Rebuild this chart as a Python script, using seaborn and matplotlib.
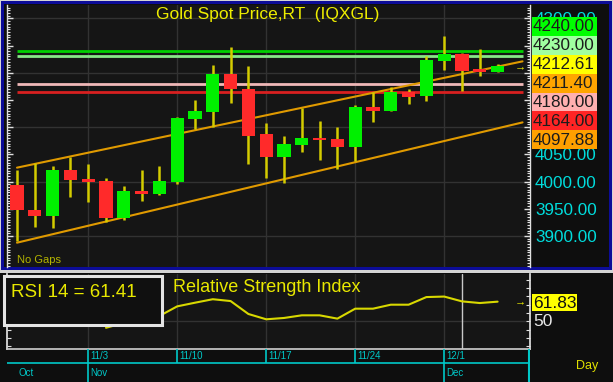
import numpy as np
import pandas as pd
import matplotlib
matplotlib.use("Agg")
import matplotlib.pyplot as plt
import seaborn as sns
from matplotlib.patches import Rectangle
from matplotlib.ticker import MultipleLocator, FixedLocator, FuncFormatter

# ---------------- data ----------------
dates = ["10/28", "10/29", "10/30", "10/31",
         "11/3", "11/4", "11/5", "11/6", "11/7",
         "11/10", "11/11", "11/12", "11/13", "11/14",
         "11/17", "11/18", "11/19", "11/20", "11/21",
         "11/24", "11/25", "11/26", "11/27", "11/28",
         "12/1", "12/2", "12/3", "12/4"]
opens = [3994, 3947, 3937, 4021, 4004, 4001, 3933, 3982, 3977, 3999,
         4115, 4127, 4197, 4171, 4087, 4045, 4067, 4080, 4079, 4064,
         4137, 4130, 4164, 4157, 4222, 4235, 4207, 4202]
highs = [4021, 4034, 4029, 4046, 4032, 4006, 3992, 4021, 4029, 4119,
         4150, 4214, 4247, 4213, 4108, 4084, 4135, 4112, 4101, 4141,
         4164, 4173, 4170, 4230, 4268, 4237, 4244, 4216]
lows = [3890, 3917, 3914, 3972, 3962, 3926, 3929, 3964, 3975, 3996,
        4097, 4101, 4144, 4032, 4006, 3997, 4055, 4040, 4024, 4038,
        4110, 4130, 4142, 4149, 4206, 4166, 4194, 4202]
closes = [3948, 3937, 4021, 4003, 4000, 3933, 3982, 3977, 4002, 4116,
          4130, 4197, 4170, 4083, 4045, 4069, 4080, 4077, 4064, 4137,
          4130, 4165, 4156, 4224, 4235, 4204, 4202, 4212.61]
rsi = [np.nan, np.nan, np.nan, np.nan, np.nan,
       46.1, 49.0, 51.0, 53.2, 59.0, 61.2, 63.3, 62.2, 54.4, 51.2, 52.0,
       53.6, 53.6, 51.6, 57.6, 57.6, 60.0, 60.0, 64.6, 64.9, 62.0, 61.0, 61.83]

level_values = [4240, 4230, 4180, 4164]
level_colors = ["#00d000", "#88e888", "#f0b8b8", "#d82020"]

channel_x = [0, 28.4]
channel_upper = [4025.6, 4221.0]
channel_lower = [3887.7, 4108.8]

tag_values = [4240.00, 4230.00, 4212.61, 4211.40, 4180.00, 4164.00, 4097.88]
tag_colors = ["#00ff00", "#a0ffa0", "#ffff00", "#ffa500", "#ffb0b0", "#ff2424", "#ffa000"]

price_ticks = [3900, 3950, 4000, 4050, 4100, 4150, 4200, 4250, 4300]
price_labelled = [3900, 3950, 4000, 4050, 4300]

week_labels = ["11/3", "11/10", "11/17", "11/24", "12/1"]
month_labels = ["Oct", "Nov", "Dec"]
month_starts = ["10/28", "11/3", "12/1"]

rsi_label = "RSI 14 = 61.41"
rsi_last_label = "61.83"
title = "Gold Spot Price,RT  (IQXGL)"

# ---------------- setup ----------------
sns.set_theme(style="dark", rc={"axes.facecolor": "#151515",
                                "figure.facecolor": "#d4d4d4",
                                "axes.grid": False})
plt.rcParams["font.family"] = ["Liberation Sans", "DejaVu Sans"]

W, H = 613, 382
fig = plt.figure(figsize=(W / 100, H / 100), dpi=100)


def add_ax(x0, y0, x1, y1):
    return fig.add_axes([x0 / W, 1 - y1 / H, (x1 - x0) / W, (y1 - y0) / H])


def rect(x0, y0, x1, y1, **kw):
    r = Rectangle((x0 / W, 1 - y1 / H), (x1 - x0) / W, (y1 - y0) / H,
                  transform=fig.transFigure, **kw)
    fig.add_artist(r)
    return r


def ftext(x, y, s, **kw):
    return fig.text(x / W, 1 - y / H, s, **kw)


# panel backgrounds
rect(1, 1, 612, 270, facecolor="#0c0c98", edgecolor="none", zorder=-10)
rect(4, 4, 609, 267, facecolor="#0e0e0e", edgecolor="none", zorder=-9)
rect(0, 273, 613, 382, facecolor="#0e0e0e", edgecolor="none", zorder=-10)

x = np.arange(len(dates))
XL = (-0.562, 28.82)
week_idx = [dates.index(d) for d in week_labels]
month_idx = [dates.index(d) for d in month_starts]

# ---------------- main price panel ----------------
ax = add_ax(7, 5, 530, 267)
ax.set_facecolor("#151515")
ax.set_xlim(*XL)
ax.set_ylim(3843.0, 4324.6)

for g in np.arange(3900, 4301, 100):
    ax.axhline(g, color="#323232", lw=1, zorder=0)
for w in week_idx:
    ax.axvline(w, color="#323232", lw=1, zorder=0)

# levels
for v, c in zip(level_values, level_colors):
    ax.hlines(v, channel_x[0], channel_x[1], color=c, lw=2, zorder=1)

# channel
sns.lineplot(x=channel_x, y=channel_upper, ax=ax, color="#e09a00", lw=1.5, zorder=2)
sns.lineplot(x=channel_x, y=channel_lower, ax=ax, color="#e09a00", lw=1.5, zorder=2)

# candles
o = np.array(opens, float); c = np.array(closes, float)
up = c >= o
ax.vlines(x, lows, highs, color="#d4cc00", lw=1.8, zorder=3)
ax.bar(x, np.abs(c - o), bottom=np.minimum(o, c), width=0.74,
       color=np.where(up, "#00f000", "#ff2a2a"), linewidth=0, zorder=4)

ax.text(28.25, closes[-1], "\u2192", color="#e8e800", fontsize=8,
        ha="center", va="center", zorder=5)
ax.text(0.0, 3851, "No Gaps", color="#b4b400", fontsize=8, ha="left", va="baseline")

ax.set_xticks([])
ax.yaxis.set_major_locator(FixedLocator(price_ticks))
ax.yaxis.set_minor_locator(MultipleLocator(5))
ax.yaxis.set_major_formatter(
    FuncFormatter(lambda v, p: f"{v:.2f}" if round(v) in price_labelled else ""))
ax.tick_params(axis="y", which="both", direction="in", left=True, right=True,
               labelleft=False, labelright=True, colors="#e0e0e0",
               labelcolor="#00dcdc", labelsize=12.3, pad=3.6)
ax.tick_params(axis="y", which="major", length=4.5, width=1)
ax.tick_params(axis="y", which="minor", length=2.5, width=0.8)
for s in ["top", "bottom"]:
    ax.spines[s].set_visible(False)
for s in ["left", "right"]:
    ax.spines[s].set_color("#e0e0e0")
    ax.spines[s].set_linewidth(1)
ax.set_xlabel(""); ax.set_ylabel("")

ftext(268, 15, title, color="#eeee00", fontsize=12.5, ha="center", va="center")

# price tags
tag_h = 18.9
tag_top = 17
for k, (v, col) in enumerate(zip(tag_values, tag_colors)):
    y0 = tag_top + k * tag_h
    rect(532, y0, 597, y0 + tag_h, facecolor=col, edgecolor="none", zorder=5)
    ftext(533, y0 + tag_h / 2 + 0.5, f"{v:.2f}", color="#1c1c1c", fontsize=12.3,
          ha="left", va="center", zorder=6)

# ---------------- RSI panel ----------------
axr = add_ax(7, 274, 530, 349)
axr.set_facecolor("#151515")
axr.set_xlim(*XL)
axr.set_ylim(33.3, 78.5)
axr.axhline(50, color="#323232", lw=1, zorder=0)
for w in week_idx:
    axr.axvline(w, color="#323232", lw=1, zorder=0)
axr.axvline(25, color="#c8c8c8", lw=1, zorder=1)
rsi_df = pd.DataFrame({"x": x, "rsi": rsi}).dropna()
sns.lineplot(data=rsi_df, x="x", y="rsi", ax=axr, color="#d8d800", lw=1.5, zorder=3)
axr.text(28.25, rsi[-1], "\u2192", color="#e8e800", fontsize=8,
         ha="center", va="center")
axr.set_xticks([])
axr.yaxis.set_major_locator(MultipleLocator(5))
axr.tick_params(axis="y", which="both", direction="in", left=True, right=True,
                labelleft=False, labelright=False, colors="#e0e0e0", length=3, width=0.8)
axr.spines["top"].set_visible(False)
axr.spines["bottom"].set_color("#c8c8c8")
for s in ["left", "right"]:
    axr.spines[s].set_color("#e0e0e0")
axr.set_xlabel(""); axr.set_ylabel("")
axr.text(0.318, 0.82, "Relative Strength Index", transform=axr.transAxes,
         color="#e8e800", fontsize=13.0, ha="left", va="center")

# RSI value box
rect(3.5, 275.5, 162, 325, facecolor="#101010", edgecolor="#e4e4e4", lw=2.2, zorder=6)
ftext(11, 292.5, rsi_label, color="#e8e800", fontsize=13.5, ha="left", va="center", zorder=7)

rect(532, 294, 577, 311, facecolor="#ffff00", edgecolor="none", zorder=5)
ftext(533, 303, rsi_last_label, color="#101010", fontsize=12.5, ha="left", va="center", zorder=6)
ftext(533, 322, "50", color="#e8e8e8", fontsize=12.5, ha="left", va="center", zorder=6)

# ---------------- date strip ----------------
axd = add_ax(7, 349, 530, 382)
axd.set_facecolor("#0e0e0e")
axd.set_xlim(*XL)
axd.set_ylim(0, 1)
axd.axis("off")
cy = "#00c8c8"
mid = (382 - 363) / 33
axd.axhline(mid, color=cy, lw=1.2)
for w, lab in zip(week_idx, week_labels):
    ymin = 0 if w in month_idx else mid
    axd.vlines(w, ymin, 1, color=cy, lw=1.2)
    axd.text(w + 0.1, 0.78, lab, color=cy, fontsize=7, ha="left", va="center")
axd.vlines(XL[1] - 0.03, 0, 1, color=cy, lw=1.5)
for mi, lab in zip(month_idx, month_labels):
    axd.text(max(mi, 0) + 0.1, 0.28, lab, color=cy, fontsize=7, ha="left", va="center")
ftext(587, 366, "Day", color="#e0e000", fontsize=9, ha="center", va="center")

fig.savefig("out.png", dpi=100, facecolor=fig.get_facecolor())
